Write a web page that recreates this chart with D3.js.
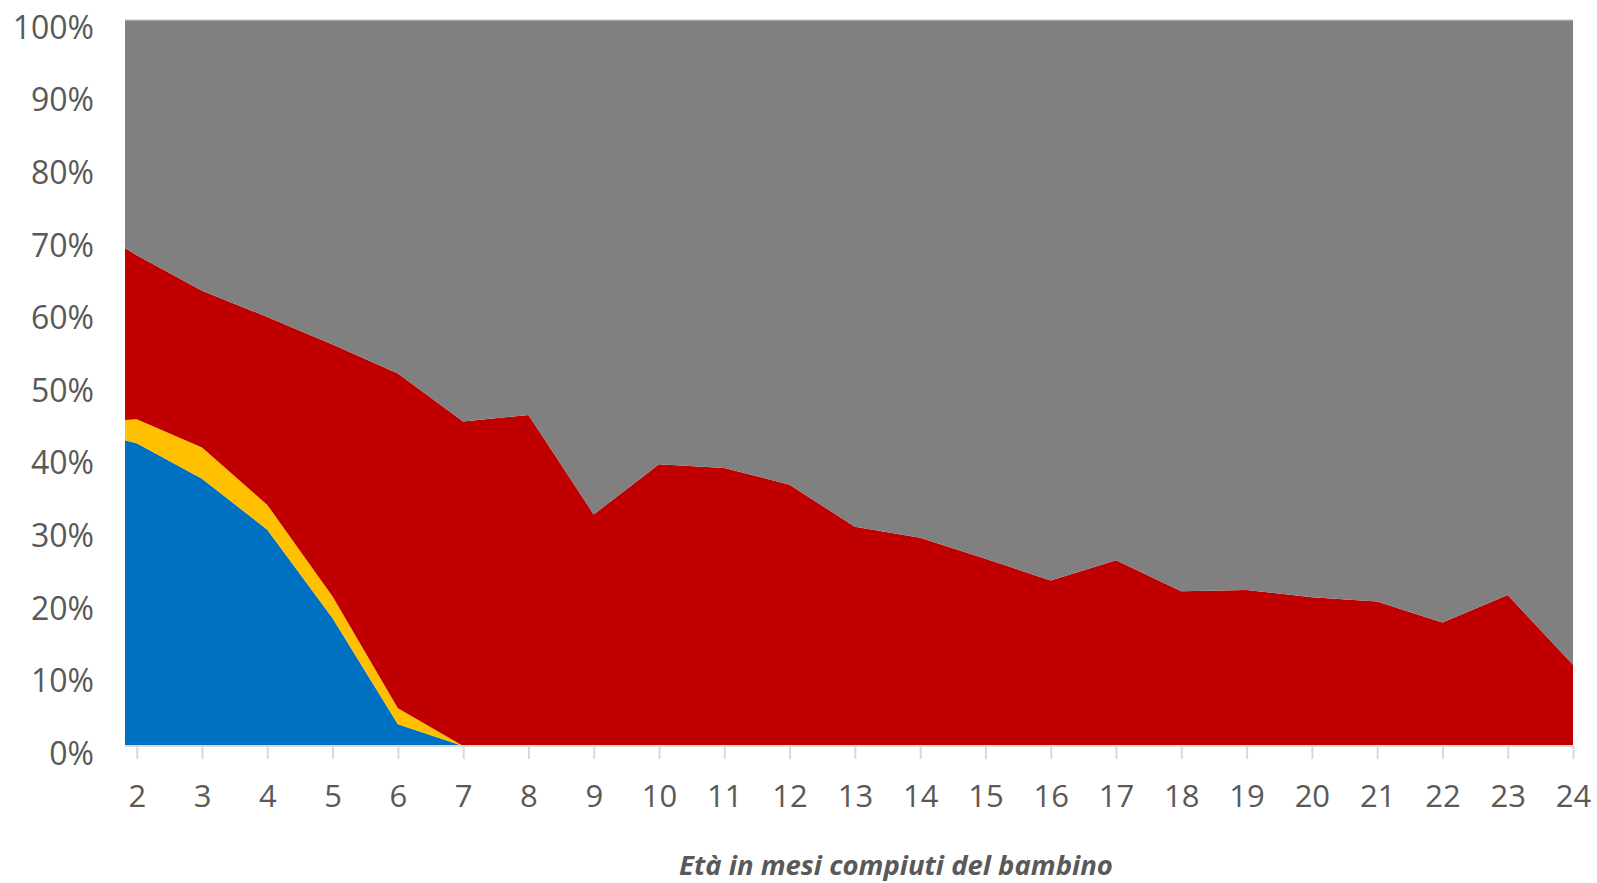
<!DOCTYPE html>
<html>
<head>
<meta charset="utf-8">
<script src="https://cdn.jsdelivr.net/npm/d3@7"></script>
<style>
  html, body { margin: 0; padding: 0; background: #fff; }
  svg { display: block; }
</style>
</head>
<body>
<svg id="chart" width="1597" height="883"></svg>
<script>
// Age in completed months (first point sits at the left edge of the plot)
const ages = [1.82, 2, 3, 4, 5, 6, 7, 8, 9, 10, 11, 12, 13, 14, 15, 16, 17, 18, 19, 20, 21, 22, 23, 24];
const tickAges = [2, 3, 4, 5, 6, 7, 8, 9, 10, 11, 12, 13, 14, 15, 16, 17, 18, 19, 20, 21, 22, 23, 24];
const seriesNames = ["blu", "giallo", "rosso", "grigio"];
const seriesColors = ["#0070C0", "#FFC000", "#C00000", "#808080"];
// percentage values per series
const blue   = [42.1, 41.7, 36.8, 29.8, 17.6, 3.0, 0, 0, 0, 0, 0, 0, 0, 0, 0, 0, 0, 0, 0, 0, 0, 0, 0, 0];
const yellow = [2.8, 3.3, 4.3, 3.4, 3.0, 2.2, 0, 0, 0, 0, 0, 0, 0, 0, 0, 0, 0, 0, 0, 0, 0, 0, 0, 0];
const red    = [23.7, 22.6, 21.6, 25.9, 34.7, 46.1, 44.7, 45.6, 31.9, 38.8, 38.3, 36.0, 30.2, 28.7, 25.8, 22.8, 25.6, 21.3, 21.5, 20.5, 19.9, 17.0, 20.8, 11.2];
const gray   = [31.4, 32.4, 37.3, 40.9, 44.7, 48.7, 55.3, 54.4, 68.1, 61.2, 61.7, 64.0, 69.8, 71.3, 74.2, 77.2, 74.4, 78.7, 78.5, 79.5, 80.1, 83.0, 79.2, 88.8];
const yTicks = [0, 10, 20, 30, 40, 50, 60, 70, 80, 90, 100];
const xTitle = "Età in mesi compiuti del bambino";

const svg = d3.select("#chart");
const x = d3.scaleLinear().domain([ages[0], 24]).range([125, 1573]);
const y = d3.scaleLinear().domain([0, 100]).range([746, 20]);

const rows = ages.map((a, i) => ({ age: a, blu: blue[i], giallo: yellow[i], rosso: red[i], grigio: gray[i] }));
const stack = d3.stack().keys(seriesNames).offset(d3.stackOffsetExpand);
const layers = stack(rows);

const area = d3.area()
  .x(d => x(d.data.age))
  .y0(d => y(d[0] * 100))
  .y1(d => y(d[1] * 100));

svg.append("g").selectAll("path")
  .data(layers)
  .join("path")
  .attr("d", area)
  .attr("fill", (d, i) => seriesColors[i]);

// top border line
svg.append("line")
  .attr("x1", x(ages[0])).attr("x2", x(24))
  .attr("y1", y(100)).attr("y2", y(100))
  .attr("stroke", "#c8c8c8").attr("stroke-width", 1);

// x axis
const xAxis = d3.axisBottom(x)
  .tickValues(tickAges)
  .tickSize(13)
  .tickPadding(26)
  .tickFormat(d3.format("d"));
const gx = svg.append("g")
  .attr("transform", `translate(0,${y(0)})`)
  .call(xAxis);
gx.select(".domain").attr("stroke", "#d9d9d9").attr("stroke-width", 2)
  .attr("d", `M${x(ages[0])},0H${x(24)}`);
gx.selectAll(".tick line").attr("stroke", "#d9d9d9").attr("stroke-width", 2);
gx.selectAll(".tick text")
  .attr("fill", "#595959")
  .style("font-family", "'Open Sans', sans-serif")
  .style("font-size", "31px");

// y axis (labels only)
const yAxis = d3.axisLeft(y)
  .tickValues(yTicks)
  .tickSize(0)
  .tickPadding(0)
  .tickFormat(d => d + "%");
const gy = svg.append("g")
  .attr("transform", `translate(94,8)`)
  .call(yAxis);
gy.select(".domain").remove();
gy.selectAll(".tick text")
  .attr("fill", "#595959")
  .style("font-family", "'Open Sans', sans-serif")
  .style("font-size", "32px");

// x title
svg.append("text")
  .attr("x", 896)
  .attr("y", 875)
  .attr("text-anchor", "middle")
  .attr("fill", "#595959")
  .style("font-family", "'Open Sans', sans-serif")
  .style("font-style", "italic")
  .style("font-weight", "bold")
  .style("font-size", "27.5px")
  .text(xTitle);
</script>
</body>
</html>
